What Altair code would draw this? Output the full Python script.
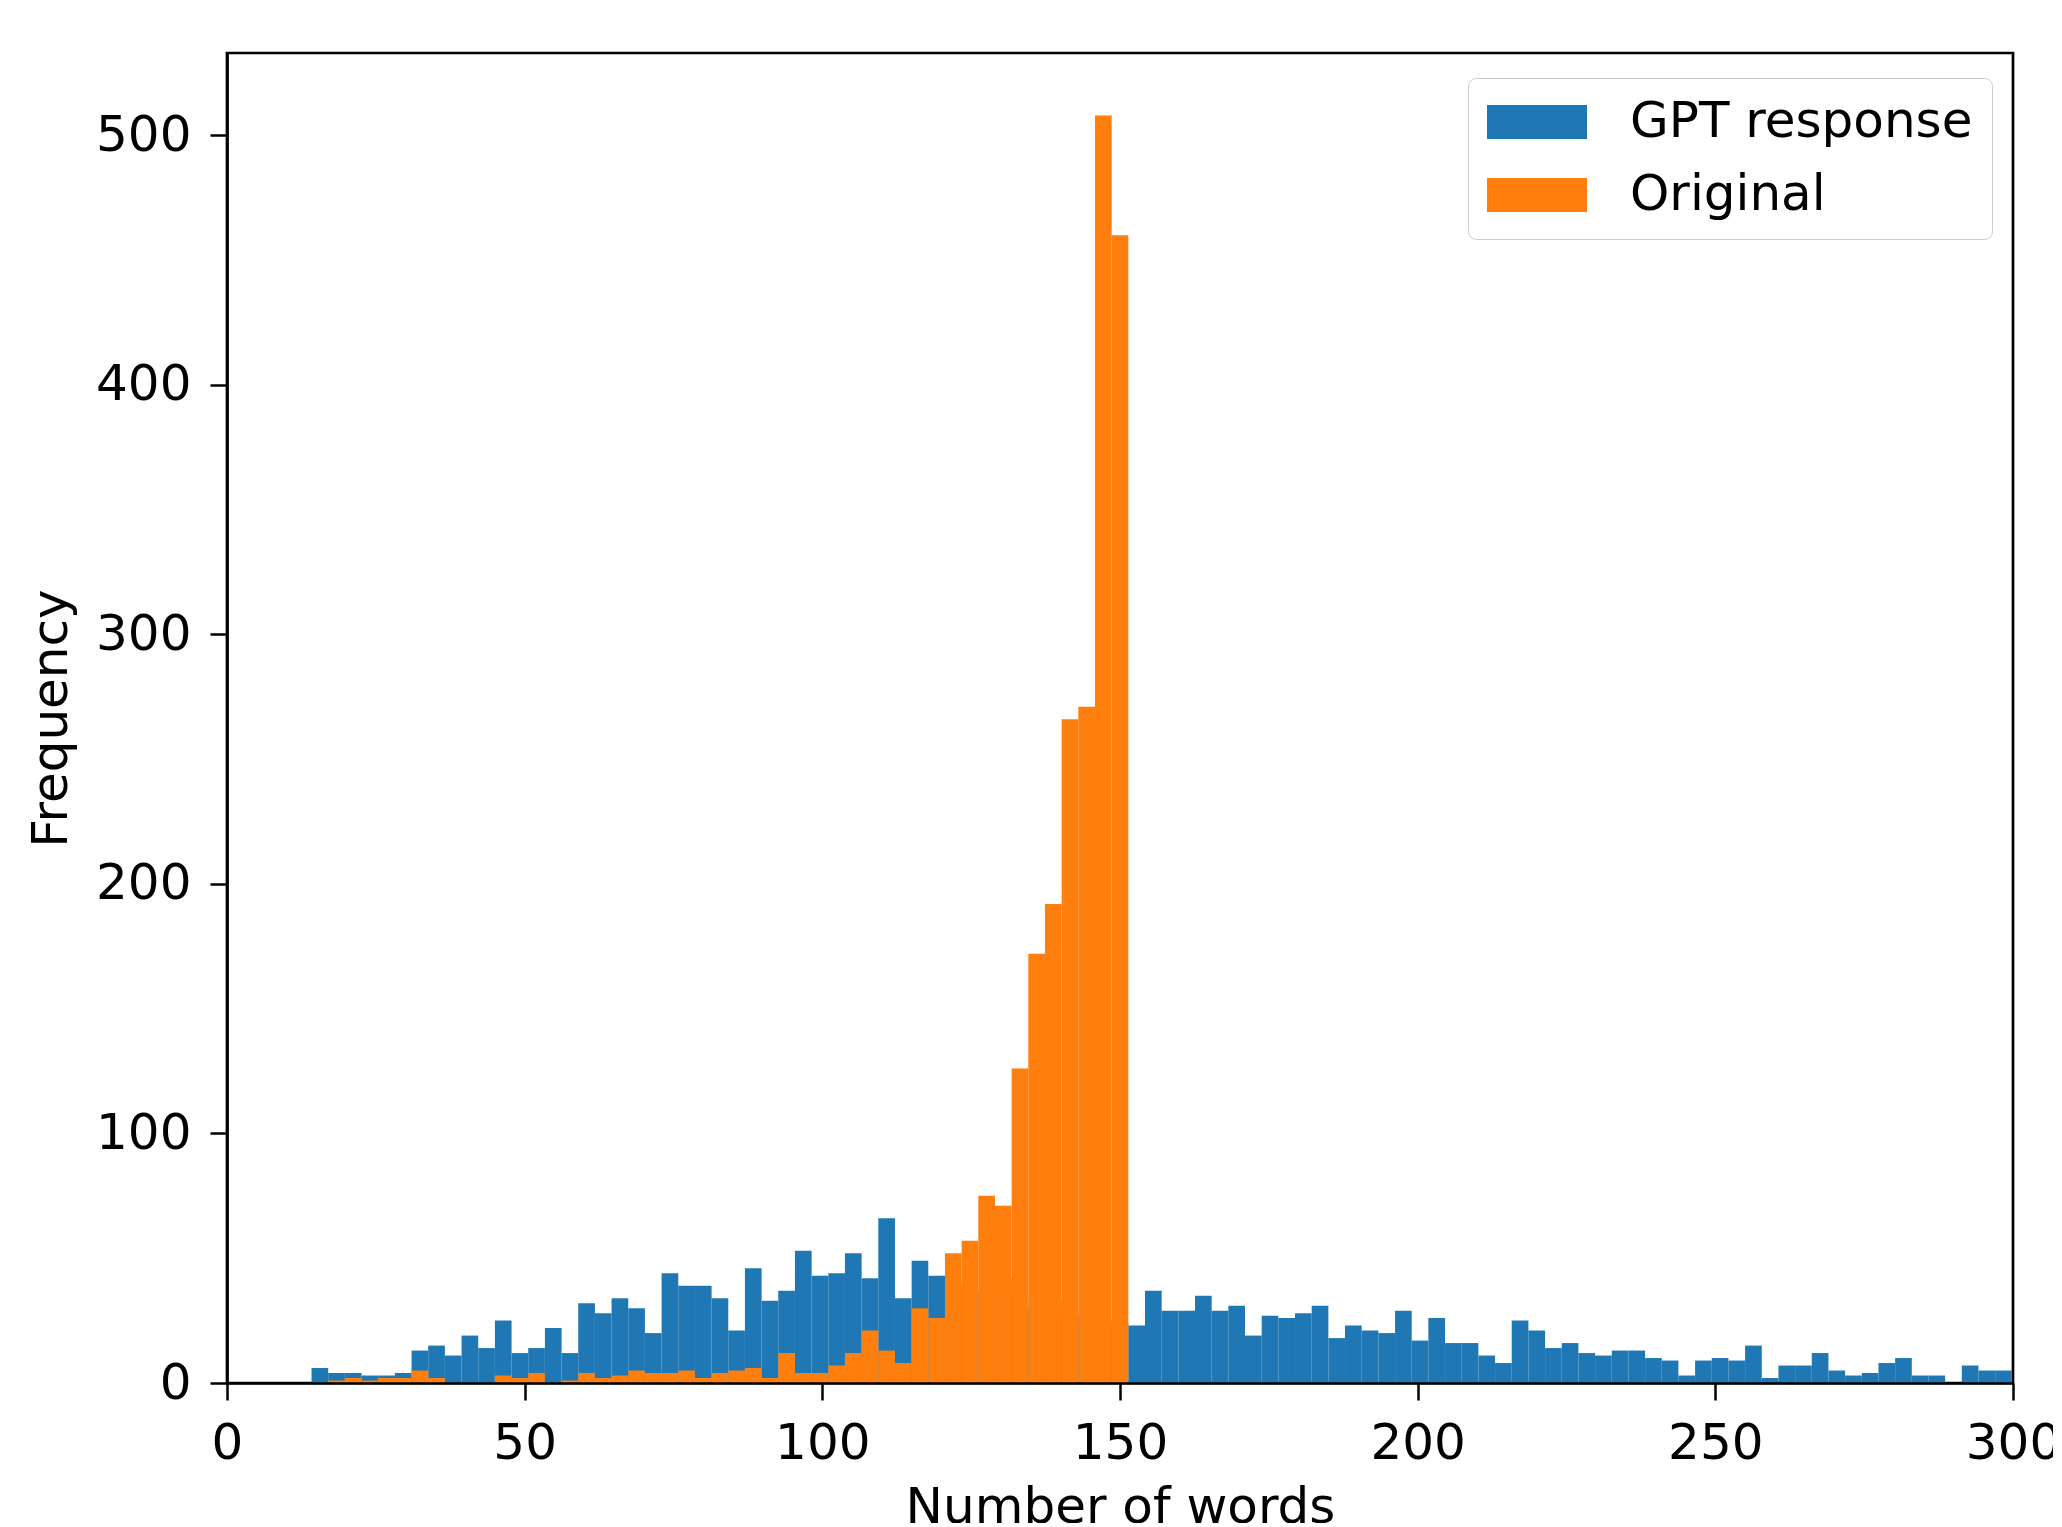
import altair as alt
import pandas as pd

# Histogram bins (shared by both series)
bin_start = 14.2
bin_width = 2.8

# GPT response counts per bin (bins 38-48 are hidden behind the orange bars)
gpt_counts = [
    6, 4, 4, 3, 3, 4, 13, 15, 11, 19,
    14, 25, 12, 14, 22, 12, 32, 28, 34, 30,
    20, 44, 39, 39, 34, 21, 46, 33, 37, 53,
    43, 44, 52, 42, 66, 34, 49, 43, 40, 38,
    36, 42, 35, 30, 33, 28, 27, 25, 24, 23,
    37, 29, 29, 35, 29, 31, 19, 27, 26, 28,
    31, 18, 23, 21, 20, 29, 17, 26, 16, 16,
    11, 8, 25, 21, 14, 16, 12, 11, 13, 13,
    10, 9, 3, 9, 10, 9, 15, 2, 7, 7,
    12, 5, 3, 4, 8, 10, 3, 3, 0, 7,
    5, 5,
]

# Original counts per bin
orig_counts = [
    0, 1, 2, 1, 2, 2, 5, 2, 0, 0,
    0, 3, 2, 4, 0, 1, 4, 2, 3, 5,
    4, 4, 5, 2, 4, 5, 6, 2, 12, 4,
    4, 7, 12, 21, 13, 8, 30, 26, 52, 57,
    75, 71, 126, 172, 192, 266, 271, 508, 460,
]

series_names = ["GPT response", "Original"]
series_colors = ["#1f77b4", "#ff7f0e"]
x_ticks = [0, 50, 100, 150, 200, 250, 300]
y_ticks = [0, 100, 200, 300, 400, 500]

rows = []
for name, counts in zip(series_names, [gpt_counts, orig_counts]):
    for i, c in enumerate(counts):
        rows.append({
            "series": name,
            "x0": round(bin_start + i * bin_width, 3),
            "x1": round(bin_start + (i + 1) * bin_width, 3),
            "count": c,
            "base": 0,
        })
df = pd.DataFrame(rows)

FONT = "DejaVu Sans"
FS = 50

x_axis = alt.Axis(
    values=x_ticks, format="d", title="Number of words",
    labelFont=FONT, labelFontSize=FS, labelColor="black",
    titleFont=FONT, titleFontSize=FS, titleColor="black", titleFontWeight="normal",
    titleY=139, titleBaseline="alphabetic",
    tickSize=17, tickWidth=2.5, tickColor="black",
    domainColor="black", domainWidth=2.7,
    labelPadding=18, labelFlush=False, labelOverlap=False,
    grid=False, zindex=1,
)
y_axis = alt.Axis(
    values=y_ticks, format="d", title="Frequency",
    labelFont=FONT, labelFontSize=FS, labelColor="black",
    titleFont=FONT, titleFontSize=FS, titleColor="black", titleFontWeight="normal",
    titleX=-161, titleY=665, titleBaseline="alphabetic",
    tickSize=17, tickWidth=2.5, tickColor="black",
    domainColor="black", domainWidth=2.7,
    labelPadding=19, labelFlush=False, labelOverlap=False,
    grid=False, zindex=1,
)

color = alt.Color(
    "series:N",
    scale=alt.Scale(domain=series_names, range=series_colors),
    legend=alt.Legend(
        title=None, orient="none", legendX=1241, legendY=25,
        symbolType="M-1,-0.68L3,-0.68L3,0.68L-1,0.68Z", symbolSize=2500,
        symbolStrokeWidth=0, symbolOpacity=1,
        labelFont=FONT, labelFontSize=FS, labelColor="black", labelLimit=1000,
        labelOffset=93, rowPadding=23, padding=19,
        strokeColor="#cccccc", cornerRadius=8, fillColor="white",
    ),
)

base = alt.Chart(df)


def layer(name):
    return base.transform_filter(alt.datum.series == name).mark_rect(strokeWidth=0).encode(
        x=alt.X("x0:Q", scale=alt.Scale(domain=[0, 300], nice=False, zero=False), axis=x_axis),
        x2="x1:Q",
        y=alt.Y("count:Q", scale=alt.Scale(domain=[0, 533], nice=False), axis=y_axis),
        y2="base:Q",
        color=color,
    )


chart = alt.layer(layer("GPT response"), layer("Original")).properties(
    width=1786, height=1330,
    autosize=alt.AutoSizeParams(type="none"),
    padding={"left": 219, "top": 45, "right": 40, "bottom": 140},
).configure(
    font=FONT,
    view=alt.ViewConfig(stroke="black", strokeWidth=2.7),
)

chart.save("out.html", embed_options={"renderer": "svg", "actions": False})
